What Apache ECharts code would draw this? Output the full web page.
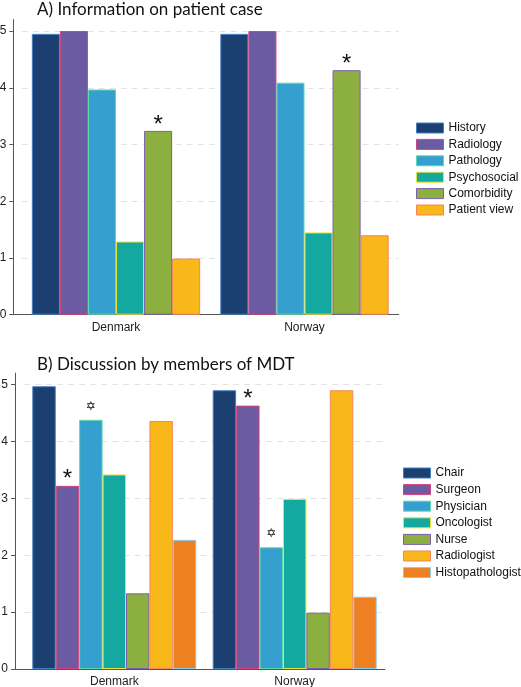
<!DOCTYPE html>
<html><head><meta charset="utf-8">
<script src="https://cdn.jsdelivr.net/npm/echarts@6/dist/echarts.min.js"></script>
<style>html,body{margin:0;padding:0;background:#fff}#c{width:521px;height:687px}</style>
</head><body><div id="c"></div>
<script>
// ---- data ----
const countries = ['Denmark', 'Norway'];
const yTicks = [0, 1, 2, 3, 4, 5];
const gridValues = [1, 2, 3, 4, 5];

const infoTitle = 'A) Information on patient case';
const infoNames = ['History', 'Radiology', 'Pathology', 'Psychosocial', 'Comorbidity', 'Patient view'];
const infoHistory = [4.95, 4.95];
const infoRadiology = [5.0, 5.0];
const infoPathology = [3.97, 4.09];
const infoPsychosocial = [1.29, 1.45];
const infoComorbidity = [3.24, 4.31];
const infoPatientView = [0.99, 1.40];
const infoMarks = [['', ''], ['', ''], ['', ''], ['', ''], ['*', '*'], ['', '']];

const mdtTitle = 'B) Discussion by members of MDT';
const mdtNames = ['Chair', 'Surgeon', 'Physician', 'Oncologist', 'Nurse', 'Radiologist', 'Histopathologist'];
const mdtChair = [4.97, 4.90];
const mdtSurgeon = [3.22, 4.63];
const mdtPhysician = [4.38, 2.14];
const mdtOncologist = [3.42, 2.99];
const mdtNurse = [1.33, 0.99];
const mdtRadiologist = [4.36, 4.90];
const mdtHistopathologist = [2.27, 1.27];
const mdtMarks = [['', ''], ['*', '*'], ['\u2721', '\u2721'], ['', ''], ['', ''], ['', ''], ['', '']];

// ---- styles ----
const infoFill = ['#1a3f70', '#6a5ba3', '#35a0cf', '#13a9a1', '#8cb040', '#f8b81a'];
const infoBorder = ['#3f7fc0', '#d8407a', '#5ed8a8', '#e8e23a', '#7b5fae', '#f7845a'];
const mdtFill = ['#1a3f70', '#6a5ba3', '#35a0cf', '#13a9a1', '#8cb040', '#f8b81a', '#ee8022'];
const mdtBorder = ['#3f7fc0', '#d8407a', '#5ed8a8', '#e8e23a', '#7b5fae', '#f7845a', '#8ccbe8'];

const infoValues = [infoHistory, infoRadiology, infoPathology, infoPsychosocial, infoComorbidity, infoPatientView];
const mdtValues = [mdtChair, mdtSurgeon, mdtPhysician, mdtOncologist, mdtNurse, mdtRadiologist, mdtHistopathologist];

const FONT = 'Arial';

function markLabel(m) {
  if (!m) return undefined;
  if (m === '*') {
    return { show: true, formatter: '*', position: 'top', distance: -6,
      fontSize: 24, fontFamily: FONT, color: '#111' };
  }
  return { show: true, formatter: m, position: 'top', distance: 7,
    fontSize: 12, fontFamily: 'DejaVu Sans', color: '#222' };
}

function barSeries(names, values, marks, fills, borders, xi, yi, gap) {
  return names.map((n, i) => ({
    name: n, type: 'bar', xAxisIndex: xi, yAxisIndex: yi, z: 3,
    barGap: 0, barCategoryGap: gap,
    itemStyle: { color: fills[i], borderColor: borders[i], borderWidth: 1 },
    data: values[i].map((v, j) => {
      const o = { value: v };
      const l = markLabel(marks[i][j]);
      if (l) o.label = l;
      return o;
    })
  }));
}

function gridSeries(xi, yi) {
  return {
    type: 'line', xAxisIndex: xi, yAxisIndex: yi, data: [], z: 0, silent: true,
    markLine: { silent: true, z: 0, symbol: 'none', label: { show: false },
      lineStyle: { color: '#e3e3e3', type: [6, 5], width: 1 },
      data: gridValues.map(v => ({ yAxis: v })) }
  };
}

const axisLineStyle = { show: true, lineStyle: { color: '#555', width: 1 } };

function yAxisDef(gi, offset) {
  return {
    type: 'value', gridIndex: gi, min: 0, max: 5.2, interval: 1, offset: offset,
    axisLine: axisLineStyle,
    axisTick: { show: true, length: 4, lineStyle: { color: '#555' }, customValues: yTicks },
    axisLabel: { show: true, margin: 7, fontSize: 12, fontFamily: FONT, color: '#222', customValues: yTicks },
    splitLine: { show: false }
  };
}
function xAxisDef(gi) {
  return {
    type: 'category', gridIndex: gi, data: countries,
    axisLine: axisLineStyle, axisTick: { show: false },
    axisLabel: { fontSize: 12, fontFamily: FONT, color: '#222', margin: 7 }
  };
}
function stubX(gi) {
  return { type: 'category', gridIndex: gi, data: [''], axisLine: axisLineStyle,
    axisTick: { show: false }, axisLabel: { show: false } };
}
function stubY(gi) {
  return { type: 'value', gridIndex: gi, min: 0, max: 5.2, show: false };
}

const titleStyle = { fontFamily: 'Lato', fontSize: 17, fontWeight: 'normal', color: '#111' };
const gridBase = { containLabel: false, outerBoundsMode: 'none' };

const chart = echarts.init(document.getElementById('c'), null, { renderer: 'canvas' });
chart.setOption({
  animation: false,
  backgroundColor: '#fff',
  title: [
    { text: infoTitle, left: 32, top: -4, textStyle: titleStyle },
    { text: mdtTitle, left: 32, top: 351, textStyle: titleStyle }
  ],
  grid: [
    Object.assign({ left: 21.75, top: 19.7, width: 377, height: 295 }, gridBase),
    Object.assign({ left: 13.3, top: 19.7, width: 8.45, height: 295 }, gridBase),
    Object.assign({ left: 24.1, top: 373.2, width: 360.8, height: 295.8 }, gridBase),
    Object.assign({ left: 15, top: 373.2, width: 9.1, height: 295.8 }, gridBase)
  ],
  xAxis: [xAxisDef(0), stubX(1), xAxisDef(2), stubX(3)],
  yAxis: [yAxisDef(0, 8.45), stubY(1), yAxisDef(2, 9.1), stubY(3)],
  legend: [
    { data: infoNames, orient: 'vertical', left: 416, top: 122, padding: 0, itemWidth: 27, itemHeight: 10,
      itemGap: 4.4, icon: 'rect', textStyle: { fontSize: 12, fontFamily: FONT, color: '#111' },
      itemStyle: { borderWidth: 1 } },
    { data: mdtNames, orient: 'vertical', left: 403, top: 467, padding: 0, itemWidth: 27, itemHeight: 10,
      itemGap: 4.6, icon: 'rect', textStyle: { fontSize: 12, fontFamily: FONT, color: '#111' },
      itemStyle: { borderWidth: 1 } }
  ],
  series: [
    gridSeries(0, 0),
    gridSeries(2, 2),
    ...barSeries(infoNames, infoValues, infoMarks, infoFill, infoBorder, 0, 0, '10.7%'),
    ...barSeries(mdtNames, mdtValues, mdtMarks, mdtFill, mdtBorder, 2, 2, '9.1%')
  ]
});
</script>
</body></html>
